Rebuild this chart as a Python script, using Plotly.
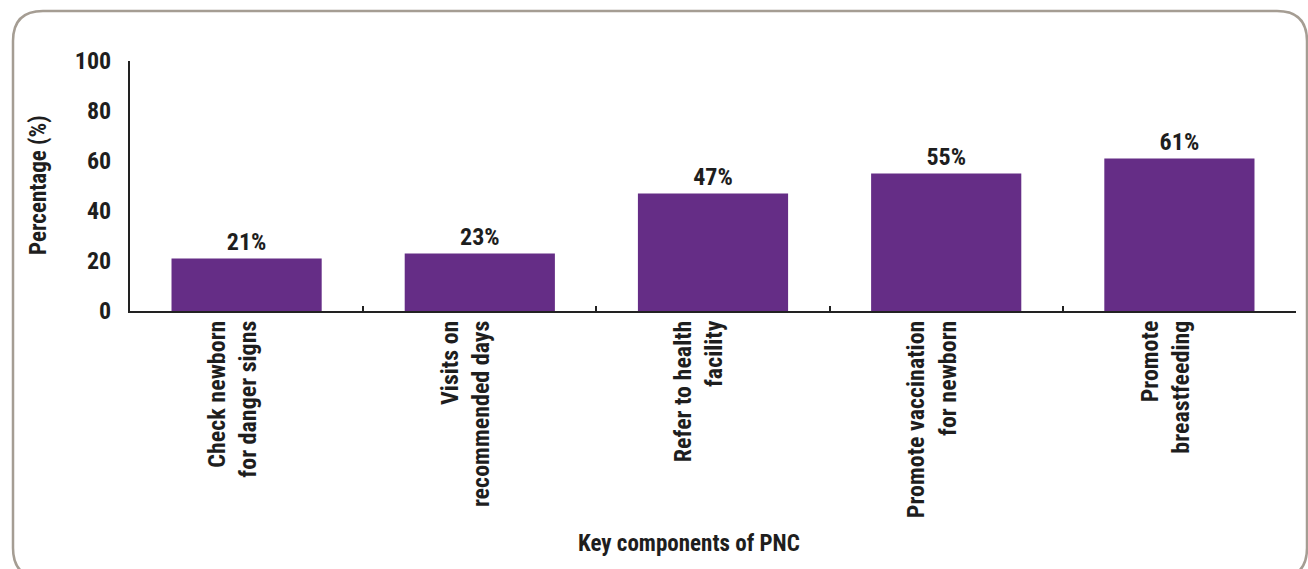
import plotly.graph_objects as go

categories = ["Check newborn<br>for danger signs", "Visits on<br>recommended days",
              "Refer to health<br>facility", "Promote vaccination<br>for newborn",
              "Promote<br>breastfeeding"]
values = [21, 23, 47, 55, 61]
labels = ["21%", "23%", "47%", "55%", "61%"]
y_ticks = [0, 20, 40, 60, 80, 100]
x_title = "Key components of PNC"
y_title = "Percentage (%)"

FONT = "Roboto Condensed, Liberation Sans Narrow, Arial Narrow, sans-serif"
TXT = "#1e1e1e"

W, H = 1308, 569
L, R, T, B = 130, 12, 61, 258
pw, ph = W - L - R, H - T - B


def px2paper(x, y):
    return (x - L) / pw, (H - B - y) / ph


fig = go.Figure(go.Bar(
    x=categories, y=values, text=labels, textposition="outside",
    texttemplate="<b>%{text}</b>",
    textfont=dict(family=FONT, size=24, color=TXT),
    marker=dict(color="#652d86", line=dict(width=0)),
    cliponaxis=False,
))

# rounded border
x0, y0 = px2paper(13, 11)
x1, y1 = px2paper(1307, 578)
rx, ry = 30 / pw, 30 / ph
path = (f"M {x0+rx},{y0} L {x1-rx},{y0} Q {x1},{y0} {x1},{y0-ry} "
        f"L {x1},{y1+ry} Q {x1},{y1} {x1-rx},{y1} L {x0+rx},{y1} "
        f"Q {x0},{y1} {x0},{y1+ry} L {x0},{y0-ry} Q {x0},{y0} {x0+rx},{y0} Z")
fig.add_shape(type="path", path=path, xref="paper", yref="paper",
              line=dict(color="#a59d93", width=2.5), layer="below")

# axis titles as annotations
ax, ay = px2paper(689, 543)
fig.add_annotation(x=ax, y=ay, xref="paper", yref="paper", showarrow=False,
                   xanchor="center", yanchor="middle",
                   text=f"<b>{x_title}</b>", font=dict(family=FONT, size=23, color=TXT))
tx, ty = px2paper(38, 185)
fig.add_annotation(x=tx, y=ty, xref="paper", yref="paper", showarrow=False, textangle=-90,
                   xanchor="center", yanchor="middle",
                   text=f"<b>{y_title}</b>", font=dict(family=FONT, size=23, color=TXT))

fig.update_layout(
    width=W, height=H, margin=dict(l=L, r=R, t=T, b=B, pad=0),
    paper_bgcolor="white", plot_bgcolor="white",
    bargap=0.356, showlegend=False,
    font=dict(family=FONT, color=TXT),
)
fig.update_xaxes(
    tickvals=categories, ticktext=[f"<b>{c}</b>" for c in categories],
    showline=True, linecolor="#222", linewidth=2,
    ticks="inside", tickson="boundaries", ticklen=5, tickwidth=2, tickcolor="#222",
    tickangle=-90, tickfont=dict(family=FONT, size=24, color=TXT),
    ticklabelshift=-14, ticklabelstandoff=-2,
    showgrid=False,
)
fig.update_yaxes(
    range=[0, 100], tickvals=y_ticks, ticktext=[f"<b>{v}</b>" for v in y_ticks],
    showline=True, linecolor="#222", linewidth=2, ticks="", showgrid=False, zeroline=False,
    tickfont=dict(family=FONT, size=24, color=TXT), ticklabelstandoff=12,
)

fig.write_html("out.html", config={"displayModeBar": False},
               post_script="document.body.style.margin='0';")
